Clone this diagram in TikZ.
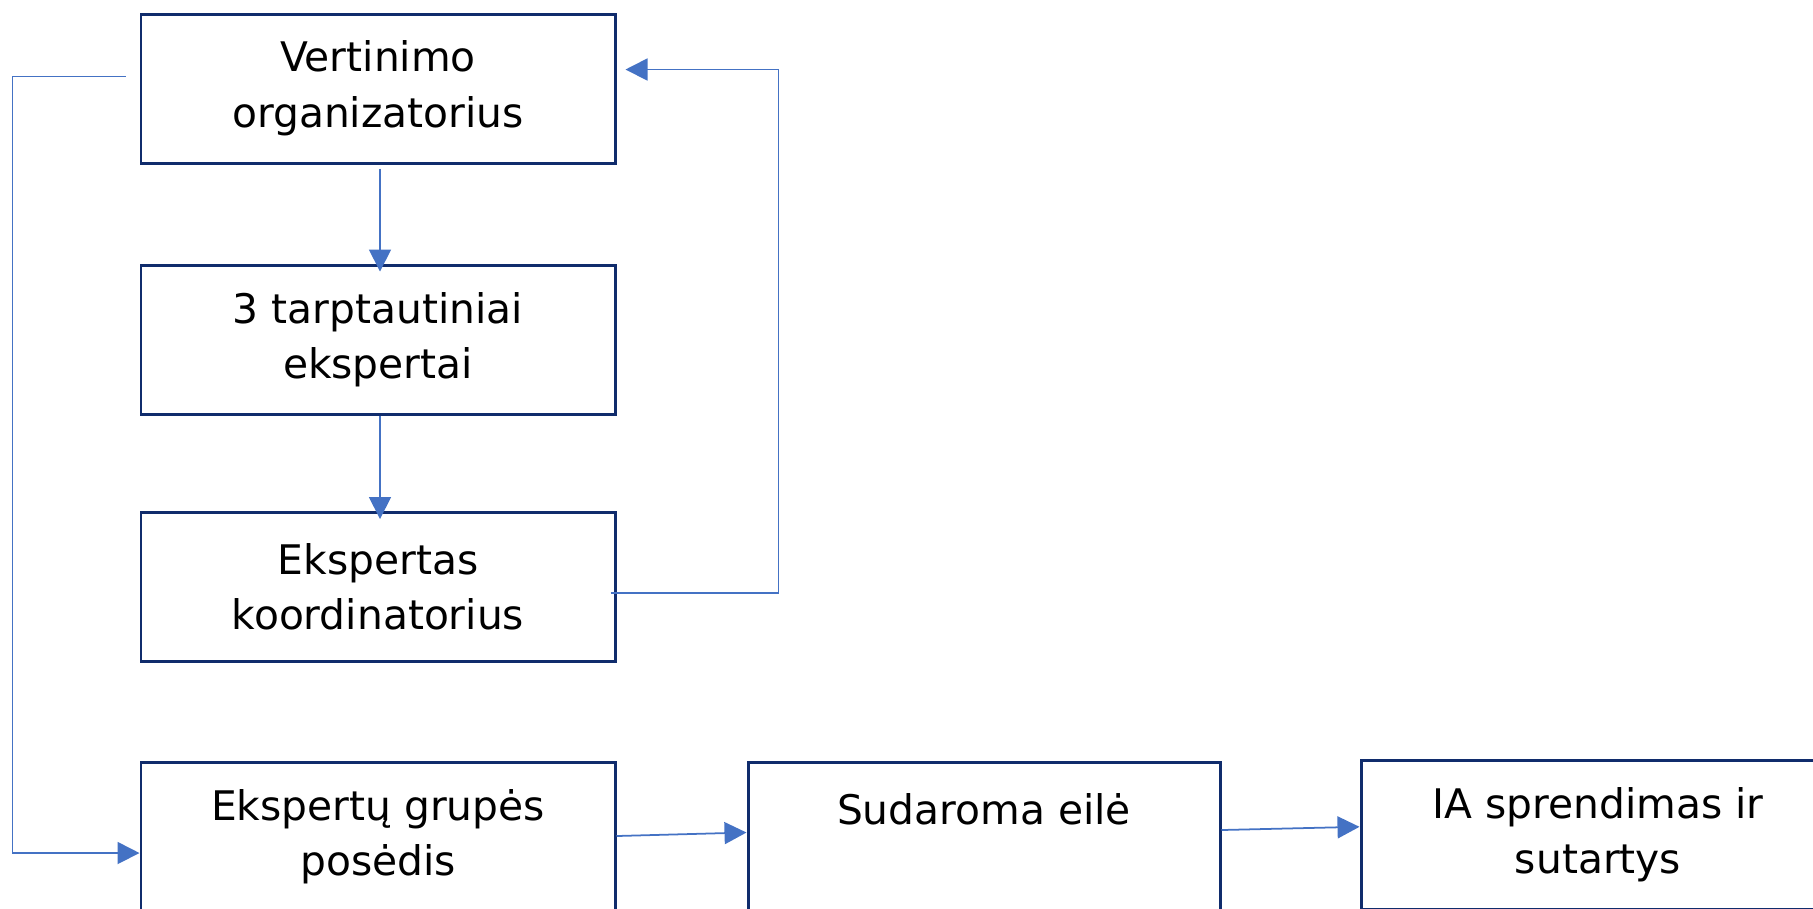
\documentclass[tikz,border=0pt]{standalone}
\usepackage{fontspec}
\setmainfont{DejaVu Sans}
\usetikzlibrary{arrows.meta}
\definecolor{boxblue}{HTML}{102C6C}
\definecolor{linkblue}{HTML}{4472C4}
\tikzset{
	stagebox/.style={draw=boxblue, line width=0.85pt, minimum width=4.74cm, minimum height=1.49cm, align=center, inner sep=0pt, font=\fontsize{11.6}{15.8}\selectfont},
	link/.style={draw=linkblue, line width=0.5pt, -{Triangle[length=0.22cm, width=0.22cm]}}
}
\begin{document}
\begin{tikzpicture}
			%%%%% START %%%%%
			
			\useasboundingbox (0, 0) rectangle (18.13, -9.08);
			\clip (0, 0) rectangle (18.13, -9.08);
			
			\node[stagebox] (org) at (3.78, -0.885) {Vertinimo\\organizatorius};
			\node[stagebox] (experts) at (3.78, -3.395) {3 tarptautiniai\\ekspertai};
			\node[stagebox] (coord) at (3.78, -5.87) {Ekspertas\\koordinatorius};
			
			\node[stagebox] (panel) at (3.78, -8.365) {Ekspertų grupės\\posėdis};
			\node[stagebox, minimum width=4.72cm] (queue) at (9.84, -8.365) {Sudaroma eilė\\\phantom{x}};
			\node[stagebox] (decision) at (15.98, -8.345) {IA sprendimas ir\\sutartys};
			
			\draw[link, shorten <=0.04cm, shorten >=-0.08cm] ([xshift=0.02cm]org.south) -- ([xshift=0.02cm]experts.north);
			\draw[link, shorten >=-0.08cm] ([xshift=0.02cm]experts.south) -- ([xshift=0.02cm]coord.north);
			
			\draw[link] ([xshift=-0.06cm, yshift=-0.06cm]coord.east) -- ++(1.68, 0) |- ([xshift=0.09cm, yshift=0.19cm]org.east);
			\draw[link] ([xshift=-0.14cm, yshift=0.12cm]org.west) -- ++(-1.13, 0) |- ([yshift=-0.165cm]panel.west);
			
			\draw[link] ([yshift=0.005cm]panel.east) -- ([yshift=0.04cm]queue.west);
			\draw[link] ([yshift=0.065cm]queue.east) -- ([yshift=0.077cm]decision.west);
			
			%%%%% END %%%%%
		\end{tikzpicture}
\end{document}
